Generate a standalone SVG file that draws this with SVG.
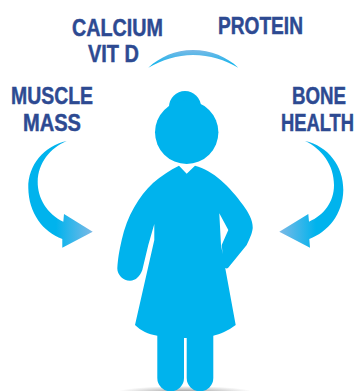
<svg xmlns="http://www.w3.org/2000/svg" width="358" height="391" viewBox="0 0 358 391">
<style>
.t{font-family:"Liberation Sans",Arial,sans-serif;font-weight:700;font-size:23px;fill:#2d4a92;stroke:#2d4a92;stroke-width:.45}
.b{fill:#00b3ed}
</style>
<defs>
<linearGradient id="la" gradientUnits="userSpaceOnUse" x1="56" y1="0" x2="92" y2="0"><stop offset="0" stop-color="#00b3ed"/><stop offset="1" stop-color="#7ab9e6"/></linearGradient>
<linearGradient id="ra" gradientUnits="userSpaceOnUse" x1="316" y1="0" x2="280" y2="0"><stop offset="0" stop-color="#00b3ed"/><stop offset="1" stop-color="#7ab9e6"/></linearGradient>
<linearGradient id="ar" gradientUnits="userSpaceOnUse" x1="193" y1="50" x2="193" y2="68"><stop offset="0" stop-color="#7ab9e6"/><stop offset="1" stop-color="#00b3ed"/></linearGradient>
<radialGradient id="sh"><stop offset="0" stop-color="#999"/><stop offset="1" stop-color="#999" stop-opacity="0"/></radialGradient>
</defs>
<g id="shadow"><ellipse cx="185" cy="392" rx="68" ry="6" fill="url(#sh)"/></g>
<g id="connectors">
<path fill="url(#la)" d="M66.7 141C44 146 28 165 28.3 188C28.6 213 43 232 62.3 239L62.3 247.7L92.7 231.7L64 214L63.3 221.7C47 214 37.5 198 37.7 181.7C38 163 50 148 66.7 141Z"/>
<path fill="url(#ra)" d="M305 141C328 146 343.5 166 343.3 190C343 214 328 232 309.3 239L310 247.7L279.3 231.7L308.3 214L309 221.7C324 215 334 202 334 185C334 165 322 149 305 141Z"/>
<path fill="url(#ar)" d="M148.3 67.7C160 57 175 50 193 50C211 50 227 57 238.3 67.7C225 60 210 55 193 55C177 55 162 60 148.3 67.7Z"/>
</g>
<g id="woman">
<circle class="b" cx="185" cy="107" r="16"/>
<circle class="b" cx="186.7" cy="132.3" r="31.7"/>
<path class="b" d="M179 165.7L186.7 173.7L195 165.7C213 170 230 187 243 205C249 213 253 221 252.7 228.3C252 234 250 238 246.7 245L228 268C226.5 269 225 268 224 266.7L221.7 245L228.3 230L219.3 213.3L221 245L235.7 325C228 331 220 334 213.3 335.7L213.3 378A13.3 13.3 0 0 1 186.7 378L186.7 338L184 338L184 378A13.3 13.3 0 0 1 157.3 378L157.3 335.7C148 334 141 331 135 325L154.3 240L154.3 224L148.3 245L142.3 270C140 276 136 280.7 130 280.7C123 280.7 117.3 275 117.3 268.3C118 258 119 252 121.7 240C127 216 139 196 153 183C161 176 170 170 179 165.7Z"/>
</g>
<g id="labels">
<text class="t" x="72" y="36" textLength="91" lengthAdjust="spacingAndGlyphs">CALCIUM</text>
<text class="t" x="88" y="62" textLength="51" lengthAdjust="spacingAndGlyphs">VIT D</text>
<text class="t" x="218" y="34" textLength="85" lengthAdjust="spacingAndGlyphs">PROTEIN</text>
<text class="t" x="11" y="104" textLength="82" lengthAdjust="spacingAndGlyphs">MUSCLE</text>
<text class="t" x="23" y="130.500" textLength="58" lengthAdjust="spacingAndGlyphs">MASS</text>
<text class="t" x="292" y="104" textLength="54" lengthAdjust="spacingAndGlyphs">BONE</text>
<text class="t" x="281" y="130.500" textLength="73" lengthAdjust="spacingAndGlyphs">HEALTH</text>
</g>
</svg>
